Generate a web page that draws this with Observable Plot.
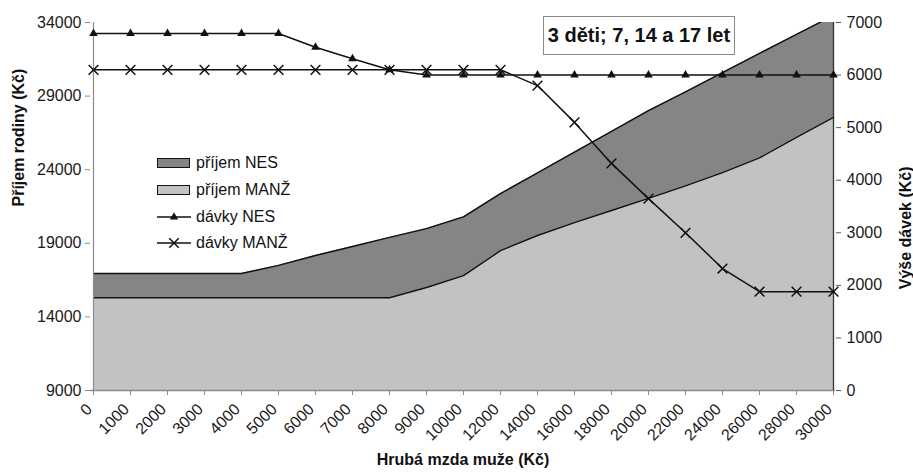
<!DOCTYPE html>
<html>
<head>
<meta charset="utf-8">
<script src="https://cdn.jsdelivr.net/npm/d3@7"></script>
<script src="https://cdn.jsdelivr.net/npm/@observablehq/plot@0.6"></script>
<style>
  body { margin: 0; background: white; }
  #chart { position: relative; width: 913px; height: 473px; font-family: "Liberation Sans", Arial, sans-serif; }
  #chart svg { position: absolute; left: 0; top: 0; }
  .titlebox { position: absolute; left: 543px; top: 16px; width: 190px; height: 37px; border: 1px solid #8a8a8a; background: white;
    font-weight: bold; font-size: 20px; color: #111; display: flex; align-items: center; justify-content: center; white-space: nowrap; }
  .legend { position: absolute; left: 157px; top: 150px; font-size: 16px; color: #111; }
  .legend .row { display: flex; align-items: center; height: 26.7px; }
  .legend svg { position: static !important; margin-right: 5px; }
</style>
</head>
<body>
<div id="chart"></div>
<script>
// Categories (gross wage of the man, Kč)
const cats = ["0","1000","2000","3000","4000","5000","6000","7000","8000","9000","10000",
              "12000","14000","16000","18000","20000","22000","24000","26000","28000","30000"];
// Family income (left axis)
const prijemNES  = [16950,16950,16950,16950,16950,17500,18170,18780,19400,20000,20800,
                    22380,23780,25200,26600,28020,29280,30600,31900,33190,34480];
const prijemMANZ = [15300,15300,15300,15300,15300,15300,15300,15300,15300,16000,16800,
                    18500,19530,20400,21230,22050,22900,23800,24800,26200,27550];
// Benefits (right axis)
const davkyNES   = [6790,6790,6790,6790,6790,6790,6530,6310,6100,6000,6000,
                    6000,6000,6000,6000,6000,6000,6000,6000,6000,6000];
const davkyMANZ  = [6100,6100,6100,6100,6100,6100,6100,6100,6100,6100,6100,
                    6100,5800,5100,4320,3650,3000,2320,1880,1880,1880];
const leftTicks  = [9000,14000,19000,24000,29000,34000];
const rightTicks = [0,1000,2000,3000,4000,5000,6000,7000];
const seriesNames = ["příjem NES","příjem MANŽ","dávky NES","dávky MANŽ"];
const titleText = "3 děti; 7, 14 a 17 let";
const xLabel = "Hrubá mzda muže (Kč)";
const yLeftLabel = "Příjem rodiny (Kč)";
const yRightLabel = "Výše dávek (Kč)";

const rows = cats.map((c, i) => ({cat: c, nes: prijemNES[i], manz: prijemMANZ[i], dNes: davkyNES[i], dManz: davkyMANZ[i]}));

const dims = {width: 913, height: 473, marginTop: 22, marginRight: 78, marginBottom: 83, marginLeft: 90};
const font = "'Liberation Sans', Arial, sans-serif";
const fmt = d => String(d);
const C_DARK = "#858585", C_LIGHT = "#c2c2c2";

const p1 = Plot.plot({
  ...dims,
  style: {fontFamily: font, fontSize: "16px", color: "#1a1a1a", background: "white"},
  x: {type: "point", domain: cats, padding: 0, label: null},
  y: {domain: [9000, 34000], label: null},
  marks: [
    Plot.areaY(rows, {x: "cat", y1: 9000, y2: "nes", fill: C_DARK, clip: true}),
    Plot.areaY(rows, {x: "cat", y1: 9000, y2: "manz", fill: C_LIGHT}),
    Plot.lineY(rows, {x: "cat", y: "nes", stroke: "#111", strokeWidth: 1.4, clip: true}),
    Plot.lineY(rows, {x: "cat", y: "manz", stroke: "#111", strokeWidth: 1.4}),
    Plot.ruleX([cats[0]], {stroke: "#8c8c8c", strokeWidth: 1.2}),
    Plot.ruleY([9000], {stroke: "#8c8c8c", strokeWidth: 1.5}),
    Plot.axisY({ticks: leftTicks, tickSize: 5, tickPadding: 4, tickFormat: fmt, label: null, stroke: "#8c8c8c"}),
    Plot.axisX({tickSize: 5, text: null, label: null, stroke: "#8c8c8c"}),
    Plot.axisX({tickRotate: -45, tickSize: 0, tickPadding: 16, dx: -4, label: null, fontSize: 16}),
    Plot.text([xLabel], {frameAnchor: "bottom", dy: 74, fontWeight: "bold", fontSize: 16, fill: "#111"}),
    Plot.text([yLeftLabel], {frameAnchor: "left", dx: -72, rotate: -90, fontWeight: "bold", fontSize: 16, fill: "#111"})
  ]
});

const p2 = Plot.plot({
  ...dims,
  style: {fontFamily: font, fontSize: "16px", color: "#1a1a1a", background: "transparent"},
  x: {type: "point", domain: cats, padding: 0, axis: null},
  y: {domain: [0, 7000], label: null},
  marks: [
    Plot.ruleX([cats[cats.length - 1]], {stroke: "#333", strokeWidth: 1.3}),
    Plot.axisY({anchor: "right", ticks: rightTicks, tickSize: 5, tickPadding: 6, tickFormat: fmt, label: null, stroke: "#555"}),
    Plot.lineY(rows, {x: "cat", y: "dNes", stroke: "#111", strokeWidth: 1.5}),
    Plot.dot(rows, {x: "cat", y: "dNes", symbol: "triangle", r: 3.2, fill: "#111"}),
    Plot.lineY(rows, {x: "cat", y: "dManz", stroke: "#111", strokeWidth: 1.5}),
    Plot.dot(rows, {x: "cat", y: "dManz", symbol: "times", r: 4.5, stroke: "#111", strokeWidth: 1.5}),
    Plot.text([yRightLabel], {frameAnchor: "right", dx: 70, dy: -40, rotate: -90, fontWeight: "bold", fontSize: 16, fill: "#111"})
  ]
});

const chart = document.getElementById("chart");
chart.appendChild(p1);
chart.appendChild(p2);

// Title box
const tb = document.createElement("div");
tb.className = "titlebox";
tb.textContent = titleText;
chart.appendChild(tb);

// Legend
const lg = document.createElement("div");
lg.className = "legend";
const swatch = (kind) => {
  const ns = "http://www.w3.org/2000/svg";
  const s = document.createElementNS(ns, "svg");
  s.setAttribute("width", 34); s.setAttribute("height", 14);
  if (kind === "area-dark" || kind === "area-light") {
    const r = document.createElementNS(ns, "rect");
    r.setAttribute("x", 0.5); r.setAttribute("y", 2.5); r.setAttribute("width", 32); r.setAttribute("height", 9);
    r.setAttribute("fill", kind === "area-dark" ? C_DARK : C_LIGHT); r.setAttribute("stroke", "#111"); r.setAttribute("stroke-width", 1);
    s.appendChild(r);
  } else {
    const l = document.createElementNS(ns, "line");
    l.setAttribute("x1", 0); l.setAttribute("x2", 34); l.setAttribute("y1", 7); l.setAttribute("y2", 7);
    l.setAttribute("stroke", "#111"); l.setAttribute("stroke-width", 1.5);
    s.appendChild(l);
    const p = document.createElementNS(ns, "path");
    if (kind === "tri") {
      p.setAttribute("d", d3.symbol(d3.symbolTriangle, 30)());
      p.setAttribute("fill", "#111");
    } else {
      p.setAttribute("d", d3.symbol(d3.symbolTimes, 60)());
      p.setAttribute("fill", "none"); p.setAttribute("stroke", "#111"); p.setAttribute("stroke-width", 1.5);
    }
    p.setAttribute("transform", "translate(17,7)");
    s.appendChild(p);
  }
  return s;
};
const kinds = ["area-dark", "area-light", "tri", "times"];
seriesNames.forEach((name, i) => {
  const row = document.createElement("div");
  row.className = "row";
  row.appendChild(swatch(kinds[i]));
  const t = document.createElement("span");
  t.textContent = name;
  row.appendChild(t);
  lg.appendChild(row);
});
chart.appendChild(lg);
</script>
</body>
</html>
